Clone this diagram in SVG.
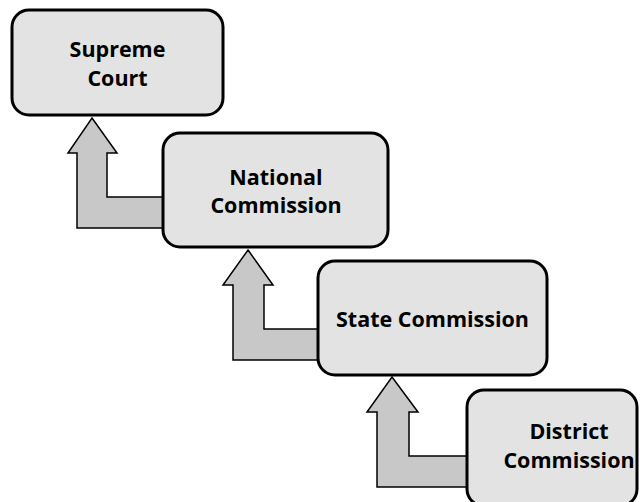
<svg xmlns="http://www.w3.org/2000/svg" width="640" height="502" viewBox="0 0 640 502">
<style>
.box{fill:#e3e3e3;stroke:#000;stroke-width:3}
.arr{fill:#c8c8c8;stroke:#000;stroke-width:1.5;stroke-linejoin:miter}
.t{font-family:"Open Sans","Liberation Sans",sans-serif;font-weight:bold;font-size:21.5px;fill:#000;text-anchor:middle}
</style>
<rect width="640" height="502" fill="#fff"/>
<g id="connectors">
<polygon class="arr" points="92,118 117,153 107,153 107,197 170,197 170,228 77,228 77,153 68,153"/>
<polygon class="arr" points="248,250 273,285 264,285 264,329 325,329 325,360 233,360 233,285 223,285"/>
<polygon class="arr" points="392,377 418,412 409,412 409,456 475,456 475,487 377,487 377,412 367,412"/>
</g>
<g id="supreme">
<rect class="box" x="12" y="10" width="211" height="105" rx="17"/>
<text class="t" x="117.5" y="57">Supreme</text>
<text class="t" x="117.5" y="86">Court</text>
</g>
<g id="national">
<rect class="box" x="163" y="133" width="225" height="114" rx="17"/>
<text class="t" x="276" y="185">National</text>
<text class="t" x="276" y="213">Commission</text>
</g>
<g id="state">
<rect class="box" x="318" y="261" width="229" height="114" rx="17"/>
<text class="t" x="432.5" y="327">State Commission</text>
</g>
<g id="district">
<rect class="box" x="467" y="390" width="170" height="116" rx="17"/>
<text class="t" x="569" y="439">District</text>
<text class="t" x="569" y="468">Commission</text>
</g>
</svg>
